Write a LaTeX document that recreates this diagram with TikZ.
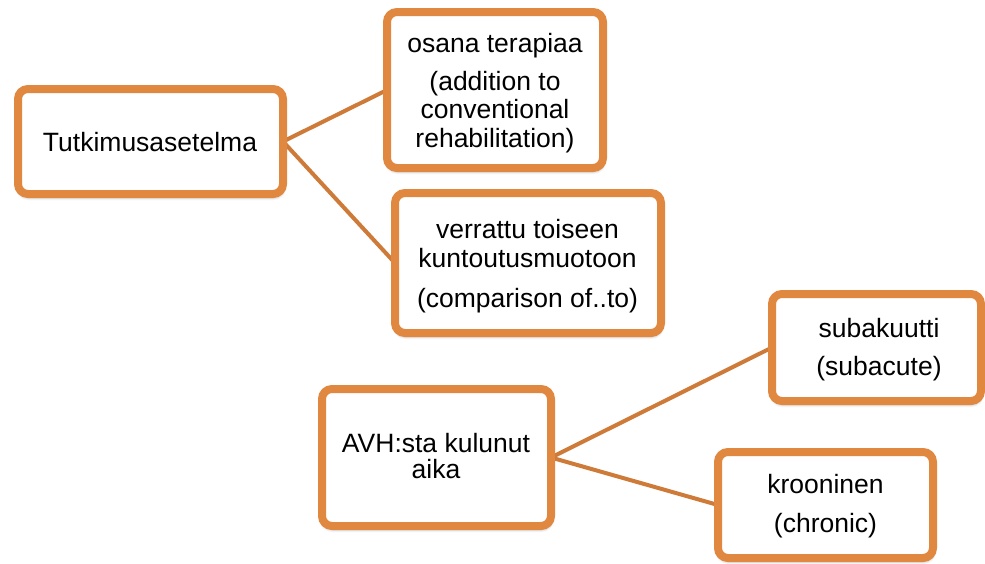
\documentclass[tikz,border=0pt]{standalone}
\usepackage{fontspec}
\setmainfont{Liberation Sans}
\usetikzlibrary{shadows.blur,backgrounds}
\definecolor{boxorange}{RGB}{224,136,64}
\definecolor{lineorange}{RGB}{206,122,56}
\tikzset{
  mbox/.style={draw=boxorange, line width=8pt, fill=white, rounded corners=10pt,
    inner sep=0pt, outer sep=0pt,
    blur shadow={shadow blur steps=6, shadow xshift=0.5pt, shadow yshift=-3.5pt, shadow opacity=35, shadow blur radius=3pt}},
  txt/.style={anchor=base, inner sep=0pt, font=\fontsize{26.5}{30}\selectfont},
  conn/.style={draw=lineorange, line width=4pt}
}
\begin{document}
\begin{tikzpicture}[x=1pt,y=-1pt]
\useasboundingbox (0,0) rectangle (985,563);
% boxes
\node[mbox, minimum width=265pt, minimum height=105pt] (b1) at (150.5,141.5) {};
\node[mbox, minimum width=216pt, minimum height=156pt] (b2) at (495,90) {};
\node[mbox, minimum width=266pt, minimum height=140pt] (b3) at (528,263) {};
\node[mbox, minimum width=229pt, minimum height=137pt] (b4) at (436.5,457.5) {};
\node[mbox, minimum width=209pt, minimum height=107pt] (b5) at (876.5,347.5) {};
\node[mbox, minimum width=215pt, minimum height=106pt] (b6) at (825.5,505) {};
% connectors behind the boxes
\begin{scope}[on background layer]
\draw[conn] (b1.east) -- (b2.west);
\draw[conn] (b1.east) -- (b3.west);
\draw[conn] (b4.east) -- (b5.west);
\draw[conn] (b4.east) -- (b6.west);
\end{scope}
% texts
\node[txt] (t1) at (150,151) {Tutkimusasetelma};
\node[txt] (t2a) at (495,52) {osana terapiaa};
\node[txt] (t2b) at (495,90) {(addition to};
\node[txt] (t2c) at (495,118.5) {conventional};
\node[txt] (t2d) at (495,147) {rehabilitation)};
\node[txt] (t3a) at (527.5,238) {verrattu toiseen};
\node[txt] (t3b) at (527.5,267) {kuntoutusmuotoon};
\node[txt] (t3c) at (527.5,307) {(comparison of..to)};
\node[txt] (t4a) at (436,452) {AVH:sta kulunut};
\node[txt] (t4b) at (436,478) {aika};
\node[txt] (t5a) at (879,337) {subakuutti};
\node[txt] (t5b) at (879,375) {(subacute)};
\node[txt] (t6a) at (825.5,493) {krooninen};
\node[txt] (t6b) at (825.5,532) {(chronic)};
\end{tikzpicture}
\end{document}
